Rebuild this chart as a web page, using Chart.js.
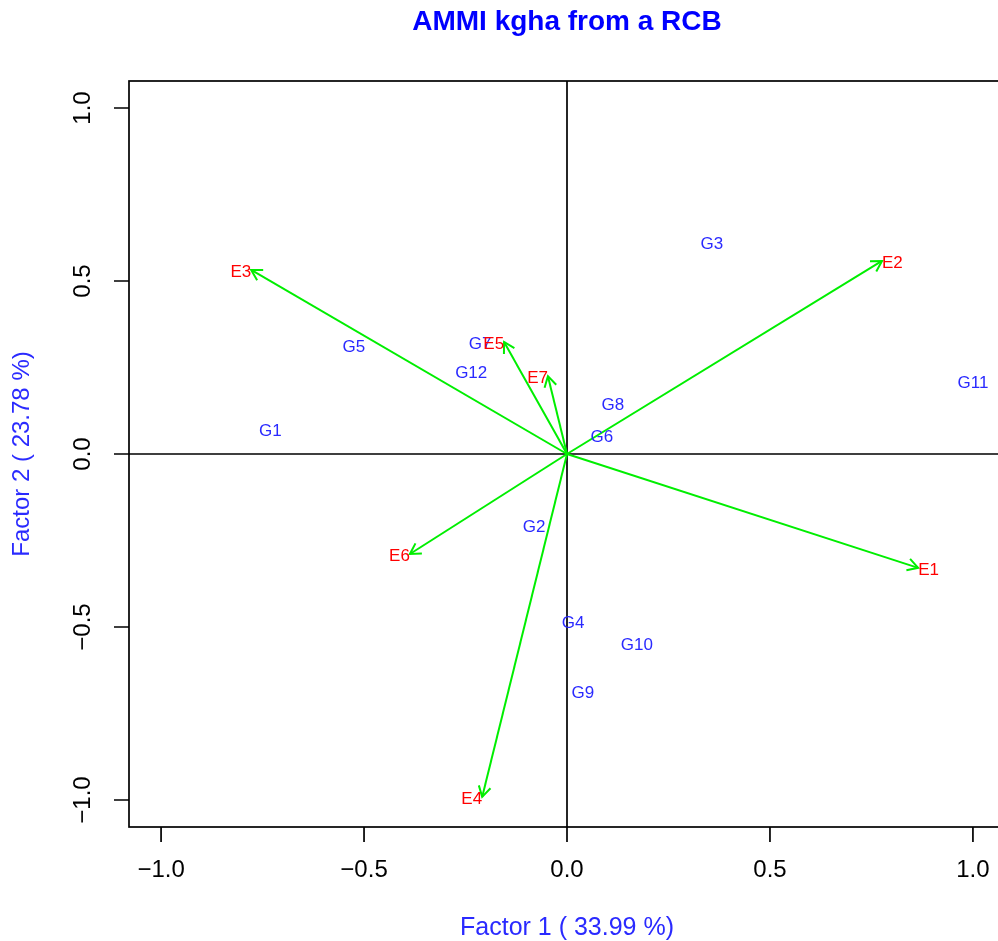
<!DOCTYPE html>
<html>
<head>
<meta charset="utf-8">
<script src="https://cdn.jsdelivr.net/npm/chart.js@4/dist/chart.umd.min.js"></script>
<style>
html, body { margin: 0; padding: 0; overflow: hidden; background: #fff; }
</style>
</head>
<body>
<canvas id="chart" width="1010" height="941"></canvas>
<script>
// genotype scores (label centres)
const genotypes = ['G1', 'G2', 'G3', 'G4', 'G5', 'G6', 'G7', 'G8', 'G9', 'G10', 'G11', 'G12'];
const genoF1 = [-0.731, -0.081, 0.357, 0.015, -0.525, 0.086, -0.214, 0.113, 0.039, 0.172, 1.000, -0.236];
const genoF2 = [0.066, -0.211, 0.607, -0.488, 0.309, 0.049, 0.318, 0.142, -0.691, -0.552, 0.205, 0.234];

// environment scores (arrow tips)
const envs = ['E1', 'E2', 'E3', 'E4', 'E5', 'E6', 'E7'];
const envF1 = [0.865, 0.776, -0.778, -0.209, -0.155, -0.387, -0.047];
const envF2 = [-0.329, 0.558, 0.532, -0.991, 0.324, -0.289, 0.225];

const xTicks = [-1.0, -0.5, 0.0, 0.5, 1.0];
const yTicks = [-1.0, -0.5, 0.0, 0.5, 1.0];

const titleText = 'AMMI kgha from a RCB';
const xTitle = 'Factor 1 ( 33.99 %)';
const yTitle = 'Factor 2 ( 23.78 %)';

const FONT = '"Liberation Sans", Arial, sans-serif';

function fmt(v) {
    return (v < 0 ? '\u2212' : '') + Math.abs(v).toFixed(1);
}

const datasets = [{
    label: 'genotypes',
    data: genotypes.map((g, i) => ({ x: genoF1[i], y: genoF2[i] })),
    pointRadius: 0,
    showLine: false
}];
envs.forEach((e, i) => {
    datasets.push({
        label: e,
        data: [{ x: 0, y: 0 }, { x: envF1[i], y: envF2[i] }],
        showLine: true,
        borderColor: '#00ee00',
        borderWidth: 2,
        pointRadius: 0
    });
});

const biplotPlugin = {
    id: 'biplot',
    beforeDatasetsDraw(chart) {
        const ctx = chart.ctx;
        const xs = chart.scales.x, ys = chart.scales.y;
        const x0 = xs.getPixelForValue(0), y0 = ys.getPixelForValue(0);
        const a = chart.chartArea;
        ctx.save();
        ctx.strokeStyle = '#000';
        ctx.lineWidth = 1.7;
        ctx.beginPath();
        ctx.moveTo(a.left, y0); ctx.lineTo(a.right, y0);
        ctx.moveTo(x0, a.top); ctx.lineTo(x0, a.bottom);
        ctx.stroke();
        ctx.restore();
    },
    afterDraw(chart) {
        const ctx = chart.ctx;
        const xs = chart.scales.x, ys = chart.scales.y;
        const a = chart.chartArea;
        ctx.save();

        // box
        ctx.strokeStyle = '#000';
        ctx.lineWidth = 1.7;
        ctx.strokeRect(a.left, a.top, a.right - a.left, a.bottom - a.top);

        // ticks
        ctx.fillStyle = '#000';
        ctx.font = '24px ' + FONT;
        ctx.beginPath();
        xTicks.forEach(v => {
            const px = xs.getPixelForValue(v);
            ctx.moveTo(px, a.bottom); ctx.lineTo(px, a.bottom + 15);
        });
        yTicks.forEach(v => {
            const py = ys.getPixelForValue(v);
            ctx.moveTo(a.left, py); ctx.lineTo(a.left - 15, py);
        });
        ctx.stroke();
        ctx.textAlign = 'center';
        ctx.textBaseline = 'middle';
        xTicks.forEach(v => {
            ctx.fillText(fmt(v), xs.getPixelForValue(v), a.bottom + 43);
        });
        yTicks.forEach(v => {
            ctx.save();
            ctx.translate(a.left - 46, ys.getPixelForValue(v));
            ctx.rotate(-Math.PI / 2);
            ctx.fillText(fmt(v), 0, 0);
            ctx.restore();
        });

        // titles
        ctx.fillStyle = '#0000ff';
        ctx.font = 'bold 28px ' + FONT;
        ctx.fillText(titleText, xs.getPixelForValue(0), 22);
        ctx.fillStyle = '#2a2aff';
        ctx.font = '25px ' + FONT;
        ctx.fillText(xTitle, xs.getPixelForValue(0), 928);
        ctx.font = '24px ' + FONT;
        ctx.save();
        ctx.translate(22, ys.getPixelForValue(0));
        ctx.rotate(-Math.PI / 2);
        ctx.fillText(yTitle, 0, 0);
        ctx.restore();

        // genotype labels
        ctx.font = '17px ' + FONT;
        ctx.fillStyle = '#2a2aff';
        const gmeta = chart.getDatasetMeta(0);
        gmeta.data.forEach((pt, i) => {
            ctx.fillText(genotypes[i], pt.x, pt.y);
        });

        // environment arrowheads and labels
        const ox = xs.getPixelForValue(0), oy = ys.getPixelForValue(0);
        envs.forEach((e, i) => {
            const pt = chart.getDatasetMeta(i + 1).data[1];
            const ang = Math.atan2(pt.y - oy, pt.x - ox);
            const len = 12, spread = Math.PI / 6;
            ctx.strokeStyle = '#00ee00';
            ctx.lineWidth = 2;
            ctx.beginPath();
            ctx.moveTo(pt.x - len * Math.cos(ang - spread), pt.y - len * Math.sin(ang - spread));
            ctx.lineTo(pt.x, pt.y);
            ctx.lineTo(pt.x - len * Math.cos(ang + spread), pt.y - len * Math.sin(ang + spread));
            ctx.stroke();
            ctx.fillStyle = '#ff0000';
            ctx.textAlign = envF1[i] >= 0 ? 'left' : 'right';
            ctx.fillText(e, pt.x, pt.y + 2);
        });
        ctx.restore();
    }
};

const config = {
    type: 'scatter',
    data: { datasets: datasets },
    options: {
        responsive: false,
        animation: false,
        layout: {
            padding: { left: 129, right: 5, top: 81, bottom: 114 }
        },
        plugins: {
            legend: false,
            tooltip: false
        },
        scales: {
            x: { type: 'linear', min: -1.079, max: 1.079, display: false },
            y: { type: 'linear', min: -1.078, max: 1.078, display: false }
        }
    },
    plugins: [biplotPlugin]
};

var myChart = new Chart(document.getElementById('chart'), config);
</script>
</body>
</html>
